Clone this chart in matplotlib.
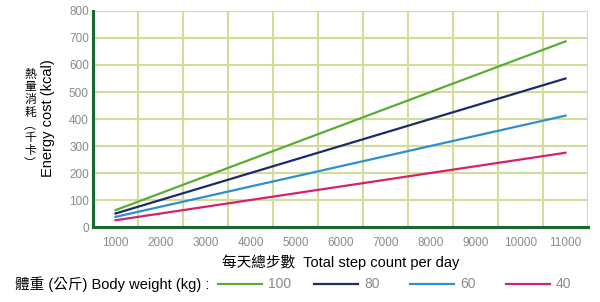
import matplotlib
matplotlib.use("Agg")
import matplotlib.pyplot as plt
from matplotlib.lines import Line2D

plt.rcParams['font.family'] = ['Liberation Sans', 'Noto Sans CJK TC']

steps = [1000, 11000]
weights = ["100", "80", "60", "40"]
kcal_100 = [62.5, 687.5]
kcal_80 = [50, 550]
kcal_60 = [37.5, 412.5]
kcal_40 = [25, 275]
series = [kcal_100, kcal_80, kcal_60, kcal_40]
colors = ["#5aac35", "#1d2a6a", "#2e8fd0", "#d2236c"]

xticks = list(range(1000, 11001, 1000))
yticks = list(range(0, 801, 100))

fig = plt.figure(figsize=(6.0, 3.02), dpi=100)
ax = fig.add_axes([0.155, 0.2483, 0.825, 0.7153])

for vals, c, w in zip(series, colors, weights):
    ax.plot(steps, vals, color=c, lw=1.6, label=w, zorder=3)

ax.set_xlim(500, 11500)
ax.set_ylim(0, 800)
ax.set_xticks(xticks)
ax.set_xticks([x + 500 for x in xticks], minor=True)
ax.set_yticks(yticks)
ax.grid(False)
ax.grid(True, which='minor', axis='x', color='#d3dc98', lw=1.5)
ax.grid(True, which='major', axis='y', color='#d3dc98', lw=1.5)
ax.tick_params(which='both', length=0, labelsize=8.5, labelcolor='#8a8a8a')
ax.tick_params(axis='x', pad=7)
ax.tick_params(axis='y', pad=3)

for s in ['top', 'right']:
    ax.spines[s].set_visible(False)
for s in ['left', 'bottom']:
    ax.spines[s].set_color('#17692e')
    ax.spines[s].set_linewidth(2.2)
    ax.spines[s].set_zorder(4)

ax.set_xlabel("每天總步數  Total step count per day", fontsize=10.5, labelpad=4)

fig.text(0.08, 0.61, "Energy cost (kcal)", rotation=90, fontsize=10.5,
         ha='center', va='center')
# vertical Chinese label, one character per row
zh_label = "熱量消耗︵千卡︶"
for i, ch in enumerate(zh_label):
    fig.text(0.05, 1 - (74 + i * 12.8) / 302, ch, fontsize=8.5,
             ha='center', va='center', family='Noto Sans CJK TC')

# legend row
fig.text(0.025, 0.06, "體重 (公斤) Body weight (kg) :", fontsize=10.5,
         ha='left', va='center')
for i, (c, w) in enumerate(zip(colors, weights)):
    x0 = (218 + i * 96) / 600
    fig.add_artist(Line2D([x0, x0 + 44 / 600], [0.06, 0.06], color=c, lw=1.6,
                          transform=fig.transFigure))
    fig.text(x0 + 50 / 600, 0.06, w, fontsize=10, color='#8a8a8a',
             ha='left', va='center')

plt.savefig("out.png", dpi=100)
plt.close()
